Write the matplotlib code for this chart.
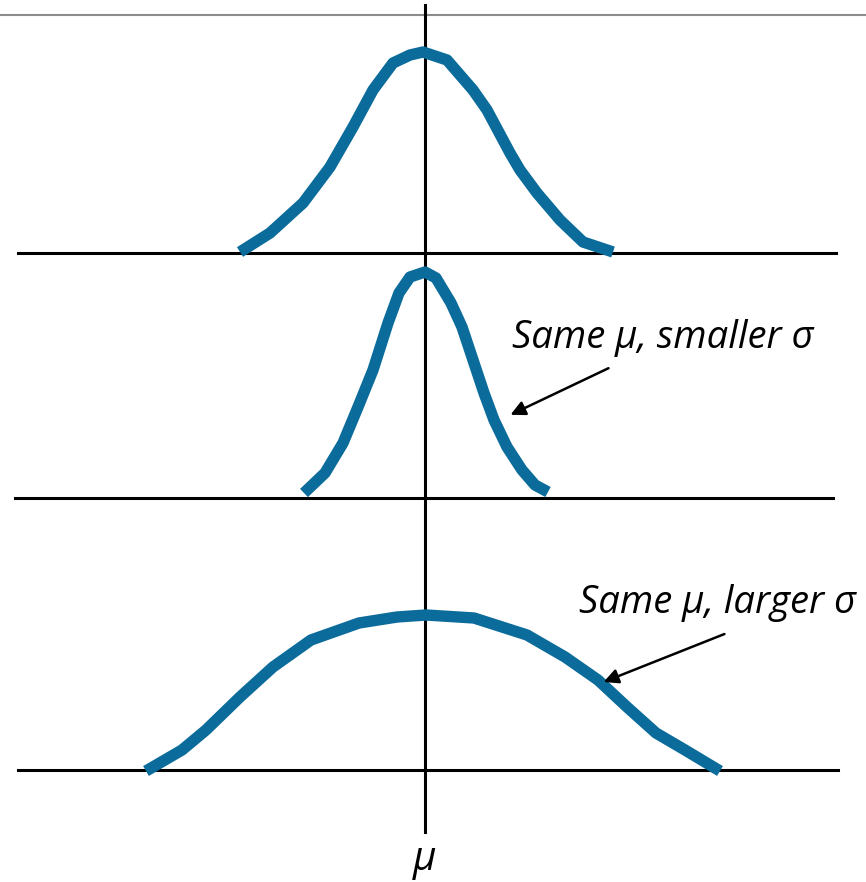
import matplotlib.pyplot as plt
import numpy as np

# Three normal-looking curves sharing the same mean, drawn in picture pixels
MU = 425

# top curve: reference sigma (x offset from mu, height above baseline)
base1 = 253
dx1 = [-185, -155, -122, -95, -72, -52, -32, -15, -2, 22, 48, 62, 85, 95, 112, 135, 158, 188]
h1 = [1, 20, 50, 86, 126, 163, 190, 198, 201, 193, 163, 143, 100, 83, 60, 33, 11, 1]

# middle curve: smaller sigma
base2 = 498
dx2 = [-121, -100, -82, -67, -52, -37, -26, -15, 0, 11, 26, 37, 48, 59, 69, 82, 97, 110, 123]
h2 = [5, 25, 55, 91, 128, 175, 205, 221, 226, 220, 195, 171, 138, 105, 78, 51, 28, 13, 6]

# bottom curve: larger sigma
base3 = 770
dx3 = [-279, -243, -219, -185, -152, -114, -66, -28, 1, 49, 102, 140, 173, 202, 231, 260, 295]
h3 = [-1, 20, 40, 73, 103, 130, 147, 153, 155, 152, 135, 113, 90, 63, 37, 20, -1]

label_small = "Same μ, smaller σ"
label_large = "Same μ, larger σ"

curve_color = '#0b6b9a'

fig = plt.figure(figsize=(8.66, 8.82), dpi=100)
ax = fig.add_axes([0, 0, 1, 1])
ax.set_xlim(0, 866)
ax.set_ylim(882, 0)
ax.axis('off')

# thin gray rule at the top
ax.plot([0, 866], [15, 15], color='#8c8c8c', lw=1.5)

# baselines and the mean line
ax.plot([18, 836], [base1, base1], color='black', lw=2.2)
ax.plot([15, 833], [base2, base2], color='black', lw=2.2)
ax.plot([18, 838], [base3, base3], color='black', lw=2.2)
ax.plot([MU, MU], [5, 832], color='black', lw=2.2)

for dx, h, base in [(dx1, h1, base1), (dx2, h2, base2), (dx3, h3, base3)]:
    ax.plot(MU + np.array(dx), base - np.array(h), color=curve_color, lw=8.2,
            solid_capstyle='butt', solid_joinstyle='round')

font = dict(family='Open Sans', style='italic', fontsize=27.5)
ax.text(512, 348, label_small, ha='left', va='baseline', **font)
ax.text(579, 613, label_large, ha='left', va='baseline', **font)
ax.text(MU, 870, 'μ', ha='center', va='baseline', family='Open Sans',
        style='italic', fontsize=29)

arrow = dict(arrowstyle='-|>', color='black', lw=1.8, mutation_scale=22)
ax.annotate('', xy=(508, 416), xytext=(611, 367), arrowprops=arrow)
ax.annotate('', xy=(601, 683), xytext=(727, 633), arrowprops=arrow)

fig.savefig('out.png', dpi=100)
